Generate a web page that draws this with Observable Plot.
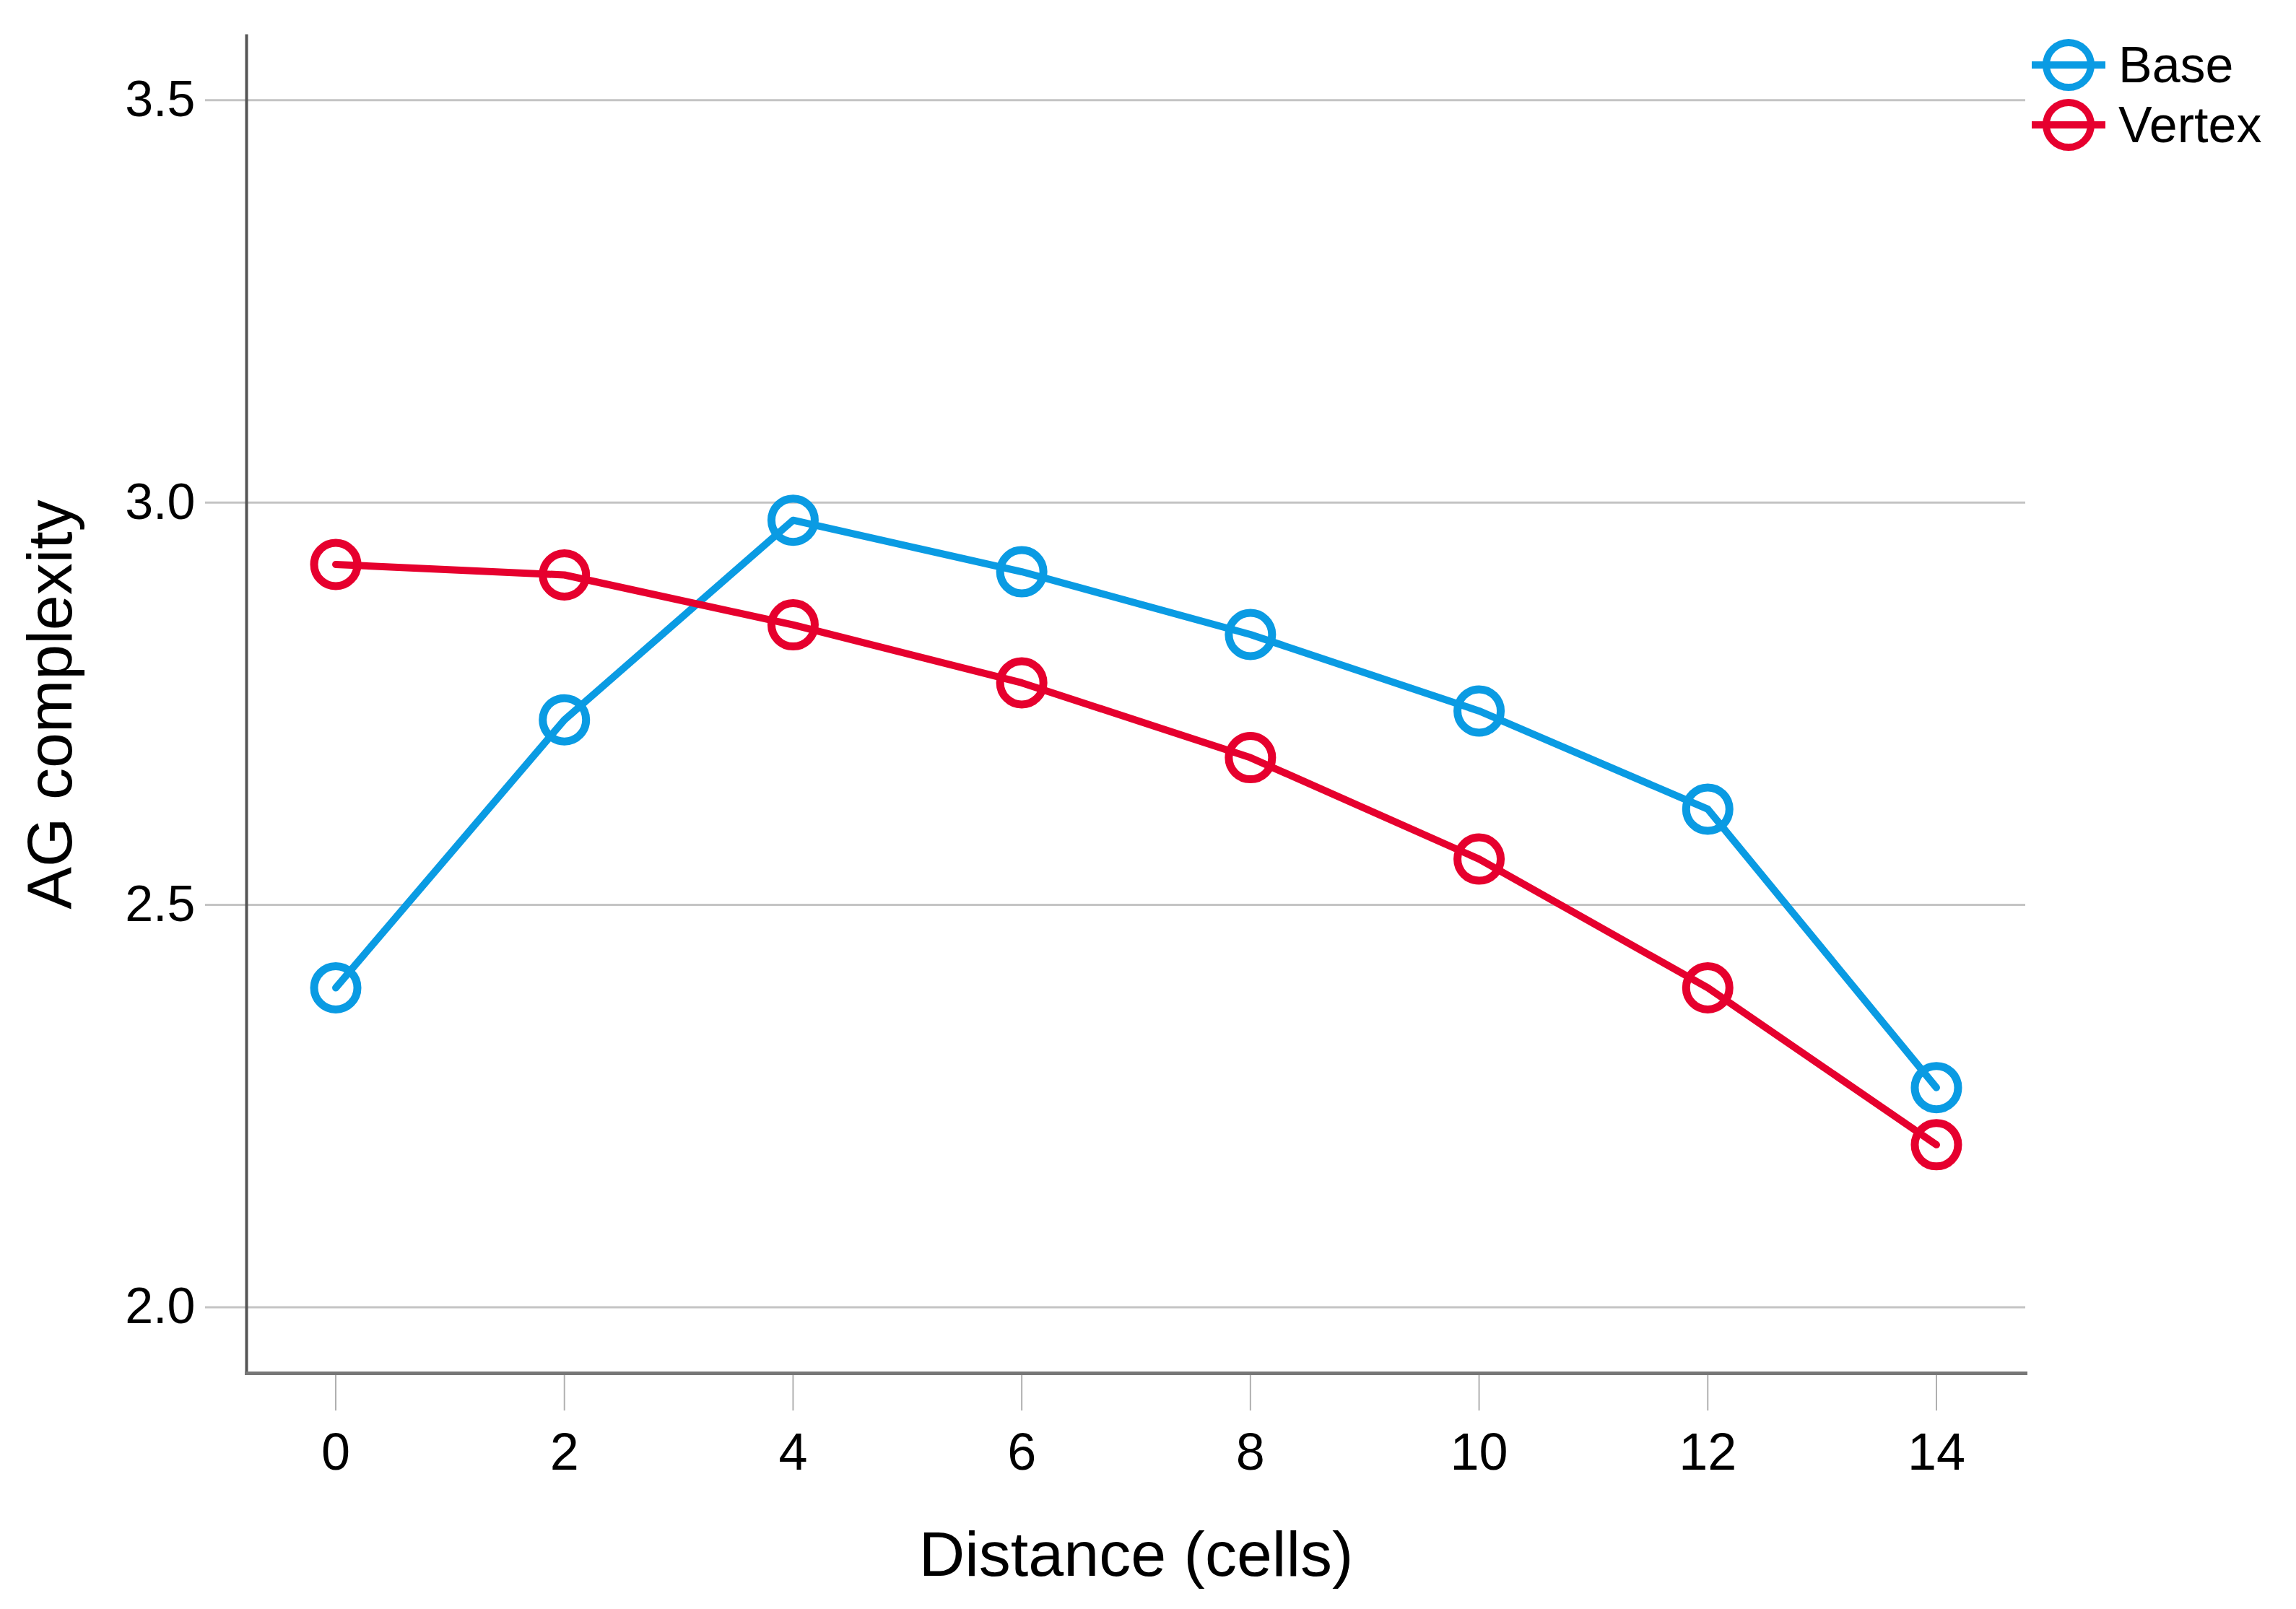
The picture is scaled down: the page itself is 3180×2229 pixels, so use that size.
<!DOCTYPE html>
<html>
<head>
<meta charset="utf-8">
<script src="https://cdn.jsdelivr.net/npm/d3@7"></script>
<script src="https://cdn.jsdelivr.net/npm/@observablehq/plot@0.6"></script>
<style>
  html, body { margin: 0; padding: 0; background: #fff; }
  #wrap { position: relative; width: 3180px; height: 2229px; font-family: "Liberation Sans", Arial, sans-serif; }
  #legend { position: absolute; left: 2810px; top: 48px; }
  .item { display: flex; align-items: center; height: 83px; font-size: 70px; color: #000; }
  .item svg { margin-right: 14px; }
  g[aria-label="x-axis label"] text { font-size: 88px; }
  g[aria-label="y-axis label"] text { font-size: 88px; }
</style>
</head>
<body>
<div id="wrap"><div id="legend"></div></div>
<script>
const distance = [0, 2, 4, 6, 8, 10, 12, 14];
const baseValues = [2.397, 2.730, 2.978, 2.914, 2.836, 2.741, 2.619, 2.273];
const vertexValues = [2.923, 2.910, 2.848, 2.776, 2.683, 2.557, 2.397, 2.202];
const seriesNames = ["Base", "Vertex"];
const seriesColors = ["#0a9be3", "#e6002e"];
const yTicks = [2.0, 2.5, 3.0, 3.5];
const xTicks = [0, 2, 4, 6, 8, 10, 12, 14];

const rows = [];
distance.forEach((d, i) => {
  rows.push({distance: d, value: baseValues[i], series: "Base"});
  rows.push({distance: d, value: vertexValues[i], series: "Vertex"});
});

const chart = Plot.plot({
  width: 3180,
  height: 2229,
  marginLeft: 341,
  marginRight: 375,
  marginTop: 49,
  marginBottom: 327,
  style: {fontFamily: '"Liberation Sans", Arial, sans-serif', background: "white", color: "#000"},
  x: {domain: [-0.78, 14.78]},
  y: {domain: [1.918, 3.58]},
  color: {domain: seriesNames, range: seriesColors},
  marks: [
    Plot.gridY(yTicks, {stroke: "#c4c4c4", strokeOpacity: 1, strokeWidth: 3}),
    Plot.axisY(yTicks, {
      tickSize: 57, tickPadding: 14, stroke: "#c4c4c4", strokeWidth: 3,
      fontSize: 70, tickFormat: d3.format(".1f"),
      label: "AG complexity", labelAnchor: "center", labelArrow: "none", labelOffset: 305
    }),
    Plot.axisX(xTicks, {
      tickSize: 52, tickPadding: 30, stroke: "#b0b0b0", strokeWidth: 2,
      fontSize: 72, tickFormat: d => String(d),
      label: "Distance (cells)", labelAnchor: "center", labelArrow: "none", labelOffset: 280
    }),
    Plot.frame({anchor: "left", stroke: "#555", strokeWidth: 4}),
    Plot.frame({anchor: "bottom", stroke: "#777", strokeWidth: 5}),
    Plot.line(rows, {x: "distance", y: "value", stroke: "series", strokeWidth: 10}),
    Plot.dot(rows, {x: "distance", y: "value", stroke: "series", r: 30, strokeWidth: 11, fill: "none"})
  ]
});
document.getElementById("wrap").prepend(chart);

const legend = document.getElementById("legend");
seriesNames.forEach((name, i) => {
  const item = document.createElement("div");
  item.className = "item";
  item.innerHTML = `<svg width="110" height="80" viewBox="0 0 110 80">
    <line x1="4" y1="40" x2="106" y2="40" stroke="${seriesColors[i]}" stroke-width="10"/>
    <circle cx="55" cy="40" r="31" fill="none" stroke="${seriesColors[i]}" stroke-width="10"/>
  </svg><span>${name}</span>`;
  legend.appendChild(item);
});
</script>
</body>
</html>
